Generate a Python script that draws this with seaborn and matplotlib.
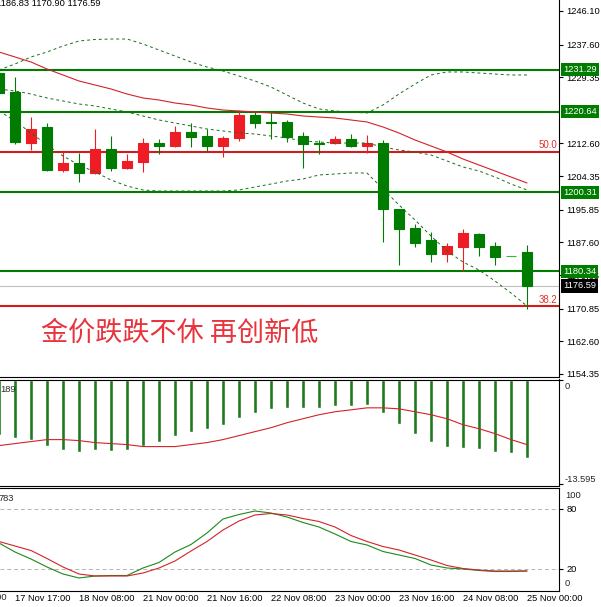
import matplotlib
matplotlib.use("Agg")
import matplotlib.pyplot as plt
import matplotlib.transforms as mtrans
import seaborn as sns
import numpy as np
import pandas as pd

# ---- data (XAUUSD H4) ----
bar_open = [1230.41, 1225.61, 1212.72, 1216.77, 1205.90, 1207.67, 1205.14, 1211.21, 1206.41, 1207.92,
            1212.72, 1211.97, 1215.50, 1214.49, 1211.97, 1213.99, 1219.80, 1218.03, 1218.03, 1214.49,
            1212.60, 1212.72, 1213.73, 1211.97, 1212.72, 1196.05, 1191.24, 1188.21, 1184.67, 1186.44,
            1189.73, 1186.70, 1184.17, 1185.18]
bar_high = [1231.17, 1229.40, 1219.29, 1217.78, 1210.45, 1210.20, 1216.26, 1214.49, 1209.94, 1213.99,
            1213.73, 1217.02, 1217.78, 1216.26, 1214.49, 1221.06, 1220.56, 1220.56, 1218.54, 1215.50,
            1213.48, 1214.49, 1215.00, 1214.75, 1213.48, 1196.05, 1192.26, 1190.23, 1187.45, 1190.99,
            1189.98, 1187.71, 1184.17, 1186.83]
bar_low = [1224.85, 1212.47, 1210.95, 1205.65, 1205.40, 1202.87, 1204.90, 1205.65, 1206.20, 1205.40,
           1209.94, 1211.71, 1211.71, 1210.70, 1209.19, 1213.23, 1216.51, 1213.73, 1212.98, 1206.41,
           1209.94, 1212.47, 1211.71, 1210.20, 1187.71, 1181.89, 1186.44, 1182.65, 1182.65, 1180.38,
           1184.17, 1181.89, 1184.17, 1170.90]
bar_close = [1225.36, 1212.98, 1216.26, 1205.90, 1207.67, 1205.14, 1211.21, 1206.41, 1208.18, 1212.72,
             1211.97, 1215.50, 1214.24, 1211.97, 1213.99, 1219.80, 1217.78, 1217.78, 1214.24, 1212.47,
             1212.47, 1213.73, 1211.97, 1212.72, 1196.05, 1190.99, 1187.45, 1184.67, 1186.70, 1189.98,
             1186.44, 1183.92, 1184.17, 1176.59]

bb_upper = [1231.17, 1232.69, 1234.46, 1235.72, 1237.24, 1238.50, 1238.88, 1239.00, 1239.00, 1237.74,
            1236.22, 1234.71, 1233.19, 1231.93, 1230.92, 1229.65, 1228.39, 1226.87, 1224.85, 1222.83,
            1221.32, 1220.81, 1220.56, 1220.30, 1222.33, 1225.11, 1227.63, 1229.91, 1230.67, 1230.67,
            1230.41, 1230.16, 1229.91, 1229.91]
bb_middle = [1226.37, 1225.86, 1225.11, 1224.10, 1223.34, 1222.58, 1222.07, 1221.32, 1220.56, 1219.55,
             1218.54, 1217.78, 1217.02, 1216.26, 1215.76, 1215.25, 1215.00, 1214.49, 1213.99, 1213.23,
             1212.98, 1212.72, 1212.72, 1212.72, 1211.71, 1210.95, 1210.45, 1209.69, 1208.18, 1206.66,
             1205.65, 1204.13, 1202.36, 1200.85]
bb_lower = [1220.81, 1218.28, 1215.25, 1212.22, 1209.44, 1207.16, 1205.40, 1203.37, 1201.86, 1200.85,
            1200.59, 1200.59, 1200.59, 1200.59, 1200.59, 1200.85, 1201.60, 1202.36, 1203.12, 1203.63,
            1204.64, 1204.89, 1205.14, 1205.14, 1201.10, 1197.06, 1193.27, 1189.22, 1185.43, 1182.65,
            1180.63, 1177.85, 1174.82, 1171.53]
ma_red = [1235.72, 1234.46, 1233.19, 1231.42, 1229.91, 1228.39, 1227.38, 1226.37, 1225.11, 1224.10,
          1223.59, 1222.83, 1222.33, 1221.57, 1221.06, 1220.81, 1220.56, 1220.30, 1220.05, 1219.55,
          1219.29, 1219.04, 1218.54, 1218.03, 1216.77, 1215.25, 1213.48, 1211.97, 1210.45, 1208.68,
          1207.16, 1205.65, 1204.13, 1202.62]

macd_hist = [-7.12, -7.51, -7.77, -8.55, -9.07, -9.45, -9.19, -9.32, -9.19, -8.55,
             -8.03, -7.25, -6.73, -6.35, -5.83, -4.92, -4.27, -3.76, -3.63, -3.63,
             -3.63, -3.37, -3.37, -3.24, -4.27, -5.70, -6.99, -8.03, -8.68, -8.81,
             -8.94, -9.45, -9.58, -10.23]
macd_signal = [-8.55, -8.29, -8.03, -7.77, -7.77, -7.90, -8.16, -8.29, -8.42, -8.68,
               -8.68, -8.68, -8.42, -8.16, -7.77, -7.25, -6.73, -6.22, -5.57, -5.05,
               -4.53, -4.14, -3.89, -3.63, -3.63, -3.76, -4.14, -4.53, -5.05, -5.83,
               -6.35, -6.99, -7.77, -8.42]

stoch_k = [46, 37, 30, 22, 15, 11, 13, 13.5, 13.5, 21, 26.5, 37, 44.5, 56, 70, 74.5, 78, 76, 72, 66.5,
           62, 55, 47.5, 44, 37.5, 34, 30.5, 24, 21, 20, 18.5, 17.5, 17.5, 18]
stoch_d = [47.5, 43, 38.5, 30.5, 22, 15, 13, 13, 13, 16, 21, 28, 38, 47.5, 59, 68, 74, 75.5, 74, 70.5,
           67.5, 62, 53.5, 47.5, 42.5, 39, 34, 29, 23.5, 20.5, 19, 18, 18, 18]

green_levels = [1231.29, 1220.64, 1200.31, 1180.34]
fib_levels = [1210.52, 1171.53]
fib_labels = ["50.0", "38.2"]
last_price = 1176.59

price_ticks = [1246.10, 1237.60, 1229.35, 1212.60, 1204.35, 1195.85,
               1187.60, 1179.35, 1170.85, 1162.60, 1154.35]
time_ticks = [1, 5, 9, 13, 17, 21, 25, 29, 33]
time_labels = ["17 Nov 17:00", "18 Nov 08:00", "21 Nov 00:00", "21 Nov 16:00", "22 Nov 08:00",
               "23 Nov 00:00", "23 Nov 16:00", "24 Nov 08:00", "25 Nov 00:00"]
title_text = "金价跌跌不休 再创新低"

df = pd.DataFrame({
    "bar": np.arange(len(bar_open)),
    "open": bar_open, "high": bar_high, "low": bar_low, "close": bar_close,
    "upper": bb_upper, "middle": bb_middle, "lower": bb_lower, "ma": ma_red,
    "hist": macd_hist, "signal": macd_signal, "k": stoch_k, "d": stoch_d,
})

sns.set_style("white")
plt.rcParams["font.family"] = ["Liberation Sans", "Noto Sans CJK SC", "DejaVu Sans"]

GREEN = "#007c00"
RED = "#ee1c24"
LINE_RED = "#d01c1c"
FS = 6.7

W, H = 601, 607
fig = plt.figure(figsize=(W / 100, H / 100), dpi=100)


def panel(top, bottom):
    return [0, (H - bottom) / H, 559 / W, (bottom - top) / H]


ax_p = fig.add_axes(panel(0, 377))
ax_m = fig.add_axes(panel(379.5, 485.7))
ax_s = fig.add_axes(panel(488, 590.5))

for ax in (ax_p, ax_m, ax_s):
    ax.set_xlim(0.0625, 35.0)
    ax.yaxis.tick_right()
    ax.tick_params(axis="y", direction="out", length=3, width=0.8, pad=2.5, labelsize=FS, colors="black")
    ax.spines["left"].set_visible(False)
    for s in ("right", "top", "bottom"):
        ax.spines[s].set_color("black")
        ax.spines[s].set_linewidth(0.8)
    ax.set_facecolor("white")
ax_p.spines["top"].set_visible(False)

# ---- price panel ----
ax_p.set_ylim(1153.59, 1248.86)
ax_p.set_yticks(price_ticks)
ax_p.set_yticklabels([f"{v:.2f}" for v in price_ticks])
ax_p.set_xticks([])

for lv in green_levels:
    ax_p.axhline(lv, color=GREEN, linewidth=1.5, zorder=1.5)
for lv in fib_levels:
    ax_p.axhline(lv, color=LINE_RED, linewidth=1.5, zorder=1.5)
ax_p.axhline(last_price, color="#c0c0c0", linewidth=0.8, zorder=1.4)

colors = np.where(df["close"] < df["open"], GREEN,
                  np.where(df["close"] > df["open"], RED, "#3cb43c"))
ax_p.vlines(df["bar"], df["low"], df["high"], colors=colors, linewidth=0.8, zorder=2.6)
ax_p.bar(df["bar"], (df["close"] - df["open"]).abs(), bottom=df[["open", "close"]].min(axis=1),
         width=0.62, color=colors, edgecolor=colors, linewidth=0.8, zorder=2.7)

for col in ("upper", "middle", "lower"):
    sns.lineplot(data=df, x="bar", y=col, ax=ax_p, color="#1a6e1a", linewidth=0.7,
                 linestyle=(0, (3, 3)), zorder=3)
sns.lineplot(data=df, x="bar", y="ma", ax=ax_p, color="#d2232a", linewidth=0.8, zorder=3)
ax_p.set_xlabel("")
ax_p.set_ylabel("")

for lv, lab in zip(fib_levels, fib_labels):
    ax_p.text(34.9, lv + 0.35, lab, ha="right", va="bottom", fontsize=FS + 0.3, color="#e03030")

trans_p = mtrans.blended_transform_factory(ax_p.transAxes, ax_p.transData)
for lv in green_levels:
    ax_p.text(1 + 4 / 559, lv, f"{lv:.2f}", transform=trans_p, ha="left", va="center",
              fontsize=FS, color="white", clip_on=False, zorder=6,
              bbox=dict(boxstyle="square,pad=0.22", fc=GREEN, ec="none"))
ax_p.text(1 + 4 / 559, last_price, f"{last_price:.2f}", transform=trans_p, ha="left", va="center",
          fontsize=FS, color="white", clip_on=False, zorder=6,
          bbox=dict(boxstyle="square,pad=0.22", fc="black", ec="none"))

ax_p.text(2.6, 1164.6, title_text, fontsize=19.5, color="#e8343c", va="center", ha="left",
          family=["Noto Sans CJK SC", "DejaVu Sans"])

fig.text(-4 / W, 1 - 5.5 / H, f"{bar_high[-1]:.2f} {bar_low[-1]:.2f} {bar_close[-1]:.2f}",
         fontsize=FS, va="baseline", ha="left", color="black")

# ---- MACD panel ----
ax_m.set_ylim(-13.78, 0.065)
ax_m.axhline(0, color="#a0a0a0", linewidth=0.7, linestyle=(0, (2, 2)), zorder=1)
ax_m.bar(df["bar"], df["hist"], width=0.19, color="#1f7a1f", zorder=2)
sns.lineplot(data=df, x="bar", y="signal", ax=ax_m, color="#d2232a", linewidth=0.8, zorder=3)
ax_m.set_xlabel("")
ax_m.set_ylabel("")
ax_m.set_xticks([])
ax_m.set_yticks([0, -13.595])
ax_m.set_yticklabels(["", ""])
ax_m.text(1 + 6 / 559, 0.932, "0", transform=ax_m.transAxes, ha="left", va="center", fontsize=FS)
ax_m.text(1 + 6 / 559, 0.054, "-13.595", transform=ax_m.transAxes, ha="left", va="center", fontsize=FS)
fig.text(0.5 / W, 1 - 392 / H, "189", fontsize=FS, va="baseline", ha="left")

# ---- Stochastic panel ----
ax_s.set_ylim(-1.5, 101)
ax_s.axhline(80, color="#b4b4b4", linewidth=0.7, linestyle=(0, (4, 3)), zorder=1)
ax_s.axhline(20, color="#b4b4b4", linewidth=0.7, linestyle=(0, (4, 3)), zorder=1)
sns.lineplot(data=df, x="bar", y="k", ax=ax_s, color="#1a8a1a", linewidth=0.8, zorder=3)
sns.lineplot(data=df, x="bar", y="d", ax=ax_s, color="#d2232a", linewidth=0.8, zorder=3)
ax_s.set_xlabel("")
ax_s.set_ylabel("")
ax_s.set_yticks([80, 20])
ax_s.set_yticklabels(["80", "20"])
trans_s = mtrans.blended_transform_factory(ax_s.transAxes, ax_s.transData)
ax_s.text(1 + 6 / 559, 93, "100", transform=trans_s, ha="left", va="center", fontsize=FS)
ax_s.text(1 + 6 / 559, 6, "0", transform=trans_s, ha="left", va="center", fontsize=FS)
ax_s.set_xticks(time_ticks)
ax_s.set_xticklabels(time_labels)
ax_s.tick_params(axis="x", direction="out", length=4, width=0.8, pad=-1.5, labelsize=FS, colors="black")
for lab in ax_s.get_xticklabels():
    lab.set_ha("left")
ax_s.text(-3, -0.073, "17 Nov 01:00",
          transform=mtrans.blended_transform_factory(ax_s.transData, ax_s.transAxes),
          ha="left", va="center", fontsize=FS, clip_on=False)
fig.text(-1 / W, 1 - 501 / H, "783", fontsize=FS, va="baseline", ha="left")

fig.savefig("out.png", dpi=100, facecolor="white")
